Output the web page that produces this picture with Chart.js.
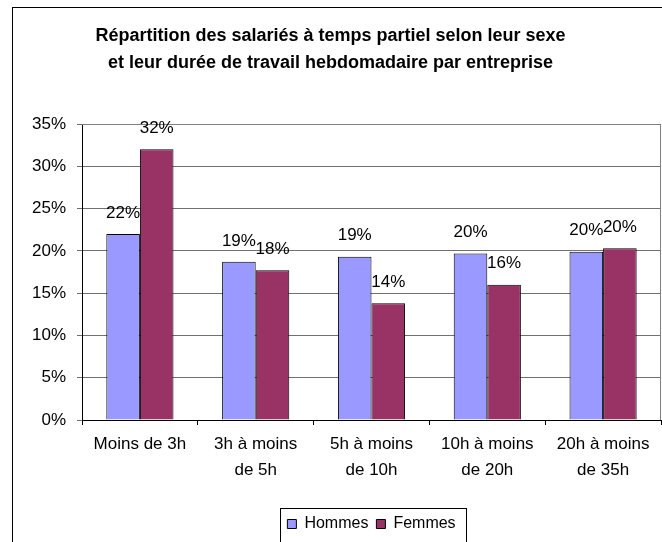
<!DOCTYPE html>
<html>
<head>
<meta charset="utf-8">
<script src="https://cdn.jsdelivr.net/npm/chart.js@4"></script>
<style>
  body { margin: 0; background: #fff; }
  canvas { display: block; }
</style>
</head>
<body>
<canvas id="chart" width="662" height="542"></canvas>
<script>
const categories = [
    "Moins de 3h",
    ["3h à moins", "de 5h"],
    ["5h à moins", "de 10h"],
    ["10h à moins", "de 20h"],
    ["20h à moins", "de 35h"]
];
const hommes = [22.0, 18.7, 19.3, 19.7, 19.9];
const femmes = [32.0, 17.7, 13.8, 16.0, 20.3];
const yTicks = [0, 5, 10, 15, 20, 25, 30, 35];

const FONT = "'Liberation Sans', Arial, sans-serif";

// cadre extérieur, bordure de la zone de tracé, étiquettes et cadre de légende
const decor = {
    id: 'decor',
    afterLayout(chart) {
        // légende centrée sous la zone de tracé
        const a = chart.chartArea;
        chart.legend.left = a.left;
        chart.legend.right = a.right;
    },
    beforeDraw(chart) {
        const ctx = chart.ctx;
        ctx.save();
        ctx.fillStyle = '#fff';
        ctx.fillRect(0, 0, chart.width, chart.height);
        ctx.strokeStyle = '#000';
        ctx.lineWidth = 1;
        ctx.strokeRect(12.5, 7.5, 800, 700);
        ctx.restore();
    },
    afterDatasetsDraw(chart) {
        const ctx = chart.ctx;
        const a = chart.chartArea;
        ctx.save();
        ctx.strokeStyle = '#808080';
        ctx.beginPath();
        ctx.moveTo(a.left, a.top + 0.5);
        ctx.lineTo(a.right - 0.5, a.top + 0.5);
        ctx.lineTo(a.right - 0.5, a.bottom);
        ctx.stroke();

        ctx.fillStyle = '#000';
        ctx.font = '17px ' + FONT;
        ctx.textAlign = 'center';
        ctx.textBaseline = 'middle';
        chart.data.datasets.forEach((ds, i) => {
            chart.getDatasetMeta(i).data.forEach((bar, j) => {
                ctx.fillText(Math.round(ds.data[j]) + '%', bar.x, bar.y - 21);
            });
        });
        ctx.restore();
    },
    afterDraw(chart) {
        const boxes = chart.legend.legendHitBoxes;
        if (!boxes || !boxes.length) return;
        const left = Math.min(...boxes.map(b => b.left)) - 7;
        const right = Math.max(...boxes.map(b => b.left + b.width)) + 11;
        const top = boxes[0].top - 8;
        const ctx = chart.ctx;
        ctx.save();
        ctx.strokeStyle = '#000';
        ctx.lineWidth = 1;
        ctx.strokeRect(Math.round(left) + 0.5, Math.round(top) + 0.5, Math.round(right - left), 34);
        ctx.restore();
    }
};

new Chart(document.getElementById('chart'), {
    type: 'bar',
    data: {
        labels: categories,
        datasets: [
            {
                label: 'Hommes',
                data: hommes,
                backgroundColor: '#9999FF',
                borderColor: '#000',
                borderWidth: 1
            },
            {
                label: 'Femmes',
                data: femmes,
                backgroundColor: '#993366',
                borderColor: '#000',
                borderWidth: 1
            }
        ]
    },
    options: {
        responsive: false,
        animation: false,
        categoryPercentage: 0.58,
        barPercentage: 1,
        layout: { padding: { left: 0, right: 1, bottom: 0 } },
        scales: {
            x: {
                afterFit(scale) { scale.height += 18; },
                grid: {
                    drawOnChartArea: false,
                    drawTicks: true,
                    tickLength: 5,
                    color: '#000'
                },
                border: { color: '#000' },
                ticks: {
                    color: '#000',
                    padding: 7,
                    maxRotation: 0,
                    autoSkip: false,
                    font: { family: FONT, size: 17, lineHeight: 1.5 }
                }
            },
            y: {
                min: 0,
                max: 35,
                afterFit(scale) { scale.width = 82; },
                afterBuildTicks(scale) { scale.ticks = yTicks.map(v => ({ value: v })); },
                grid: { color: '#707070', tickLength: 5 },
                border: { color: '#000' },
                ticks: {
                    color: '#000',
                    padding: 11,
                    font: { family: FONT, size: 17 },
                    callback: v => v + '%'
                }
            }
        },
        plugins: {
            title: {
                display: true,
                text: [
                    'Répartition des salariés à temps partiel selon leur sexe',
                    'et leur durée de travail hebdomadaire par entreprise'
                ],
                color: '#000',
                font: { family: FONT, size: 18, weight: 'bold', lineHeight: 1.5 },
                padding: { top: 23, bottom: 47 }
            },
            legend: {
                position: 'bottom',
                labels: {
                    color: '#000',
                    boxWidth: 9,
                    boxHeight: 9,
                    padding: 8,
                    font: { family: FONT, size: 16 },
                    generateLabels(chart) {
                        return chart.data.datasets.map((ds, i) => ({
                            text: ds.label,
                            fillStyle: ds.backgroundColor,
                            strokeStyle: '#000',
                            lineWidth: 1,
                            datasetIndex: i,
                            fontColor: '#000'
                        }));
                    }
                }
            },
            tooltip: { enabled: false }
        }
    },
    plugins: [decor]
});
</script>
</body>
</html>
